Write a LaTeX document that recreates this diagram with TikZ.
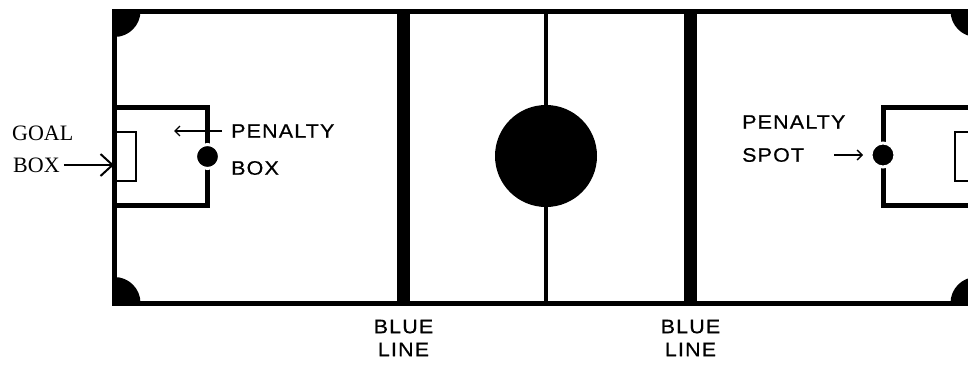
\documentclass[tikz,border=0pt]{standalone}
\usepackage{fontspec}
\setmainfont{Liberation Serif}
\newfontfamily\pixfont{Liberation Sans}[FakeStretch=1.1, LetterSpace=6, FakeBold=0.6]
\usetikzlibrary{arrows.meta,positioning}

\begin{document}
\begin{tikzpicture}[x=1pt, y=-1pt,
    wall/.style={line width=5pt},
    blueline/.style={line width=12.5pt},
    thinbox/.style={line width=2pt},
    lbl/.style={font=\pixfont\fontsize{19.5}{23}\selectfont, inner sep=0pt, align=center},
    goallbl/.style={font=\fontsize{22}{26}\selectfont, inner sep=0pt},
    spot/.style={circle, fill=black, draw=white, line width=3pt, inner sep=0pt, minimum size=24pt},
    bigarrow/.style={-{Straight Barb[length=12pt,width=22pt,line width=2pt]}, line width=2pt},
    smallarrow/.style={-{Straight Barb[length=5pt,width=10pt]}, line width=1.3pt}]
    \useasboundingbox (0,0) rectangle (968,364);
    \clip (0,0) rectangle (968,364);

    % Corners
    \begin{scope}
        \clip (114.5,11) rectangle (976.5,303);
        \foreach \cx/\cy in {114.5/11, 976.5/11, 114.5/303, 976.5/303}
            \fill (\cx,\cy) circle (26);
    \end{scope}

    % Rink and lines
    \draw[wall] (114.5,11) rectangle (976.5,303);
    \draw[blueline] (403.5,11) -- (403.5,303);
    \draw[blueline] (690.5,11) -- (690.5,303);
    \draw[line width=4pt] (546,11) -- (546,303);
    \fill (546,156) circle (51);

    % Boxes
    \draw[wall] (114.5,107.5) -| (207.5,205.5) -- (114.5,205.5);
    \draw[wall] (976.5,107.5) -| (883,205.5) -- (976.5,205.5);
    \draw[thinbox] (114.5,132) -| (136,181) -- (114.5,181);
    \draw[thinbox] (976.5,132) -| (955,181) -- (976.5,181);

    % Labels
    \node[goallbl, anchor=west] (goalg) at (12,133) {GOAL};
    \node[goallbl, anchor=west] (boxg) at (13,165) {BOX};
    \node[lbl, anchor=west] (penl) at (231,131) {PENALTY};
    \node[lbl, anchor=west] (boxl) at (231,168) {BOX};
    \node[lbl, anchor=west] (penr) at (742,122) {PENALTY};
    \node[lbl, anchor=west] (spotlbl) at (742,155) {SPOT};
    \node[lbl] (bluel) at (403.5,338) {BLUE\\LINE};
    \node[lbl] (bluer) at (690.5,338) {BLUE\\LINE};

    % Spots
    \node[spot] (spotl) at (207.5,156.5) {};
    \node[spot] (spotr) at (883,155) {};

    % Arrows
    \coordinate (goalwall) at (114,165);
    \coordinate (penltip) at (174,131);
    \draw[bigarrow, shorten <=4pt] (boxg) -- (goalwall);
    \draw[smallarrow, shorten <=9pt] (penl) -- (penltip);
    \draw[smallarrow, shorten <=30pt, shorten >=6.5pt] (spotlbl) -- (spotr);
\end{tikzpicture}
\end{document}
